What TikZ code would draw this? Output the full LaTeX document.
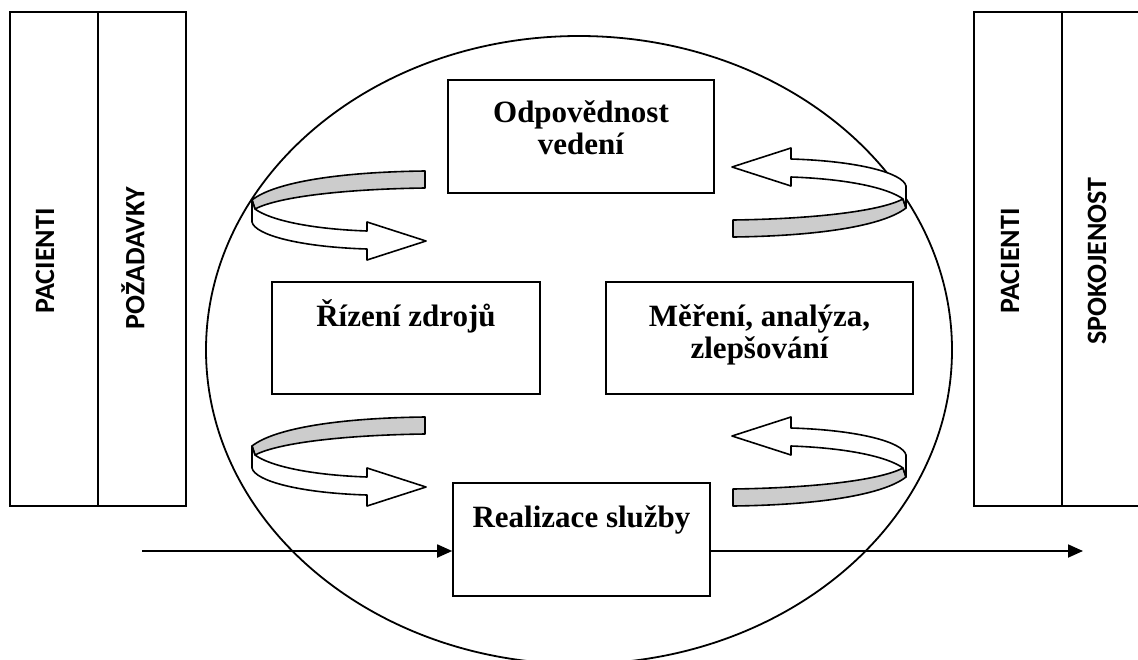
\documentclass[tikz,border=0pt]{standalone}
\usepackage{fontspec}
\setmainfont{Liberation Serif}
\newfontfamily\calfont{Carlito}
\usetikzlibrary{arrows.meta}
\definecolor{ribgray}{RGB}{204,204,204}
\tikzset{
  boxstyle/.style={draw, line width=1.6pt, inner sep=0pt, fill=white},
  sidebox/.style={draw, line width=1.6pt, inner sep=0pt, minimum width=88pt, minimum height=494pt, anchor=north west},
  sidelabel/.style={inner sep=0pt, font=\calfont\bfseries\fontsize{28}{30}\selectfont},
  ribline/.style={line width=1.6pt, line join=round},
  flow/.style={line width=1.8pt, -{Triangle[length=15pt,width=13pt]}},
}
\newcommand{\boxtext}[4]{\parbox[c][#2pt][t]{#1pt}{\centering\fontsize{31}{32}\selectfont\bfseries\rule{0pt}{#3pt}#4}}
\newcommand{\ribbon}{%
  \filldraw[ribline, fill=ribgray] (252,200) .. controls (275,182) and (340,172) .. (425,171)
     -- (425,188) .. controls (350,189) and (280,196) .. (255,209) -- cycle;
  \filldraw[ribline, fill=white] (252,200) -- (252,222) .. controls (255,235) and (300,247) .. (367,249)
     -- (367,260) -- (426,241) -- (367,222) -- (367,231)
     .. controls (310,229) and (270,220) .. (255,209) -- cycle;
}
\begin{document}
\begin{tikzpicture}[x=1pt,y=-1pt]
\useasboundingbox (0,0) rectangle (1138,659);
\clip (0,0) rectangle (1138,659);
% ellipse
\draw[line width=1.8pt] (579,350) ellipse [x radius=373pt, y radius=314pt];
% side boxes
\node[sidebox] (pac1) at (9,11) {};
\node[sidebox] (poz) at (97,11) {};
\node[sidebox] (pac2) at (973,11) {};
\node[sidebox] (spok) at (1061,11) {};
\node[sidelabel] (t1) at (45,261) {\rotatebox{90}{PACIENTI}};
\node[sidelabel] (t2) at (133,258) {\rotatebox{90}{POŽADAVKY}};
\node[sidelabel] (t3) at (1010,261) {\rotatebox{90}{PACIENTI}};
\node[sidelabel] (t4) at (1097,261) {\rotatebox{90}{SPOKOJENOST}};
% central boxes
\node[boxstyle] (odp) at (581,136.5) {\boxtext{266}{113}{42}{Odpovědnost\\vedení}};
\node[boxstyle] (riz) at (406,338) {\boxtext{268}{112}{44}{Řízení zdrojů}};
\node[boxstyle] (mer) at (759.5,338) {\boxtext{307}{112}{44}{Měření, analýza,\\zlepšování}};
\node[boxstyle] (real) at (581.5,539.5) {\boxtext{257}{113}{44}{Realizace služby}};
% ribbon arrows
\ribbon
\begin{scope}[shift={(0,246)}]\ribbon\end{scope}
\begin{scope}[rotate around={180:(579,204)}]\ribbon\end{scope}
\begin{scope}[rotate around={180:(579,338.5)}]\ribbon\end{scope}
% flow arrows
\coordinate (in) at (142,551);
\coordinate (out) at (1083,551);
\draw[flow] (in) -- (in -| real.west);
\draw[flow] (real.east |- out) -- (out);
\end{tikzpicture}
\end{document}
